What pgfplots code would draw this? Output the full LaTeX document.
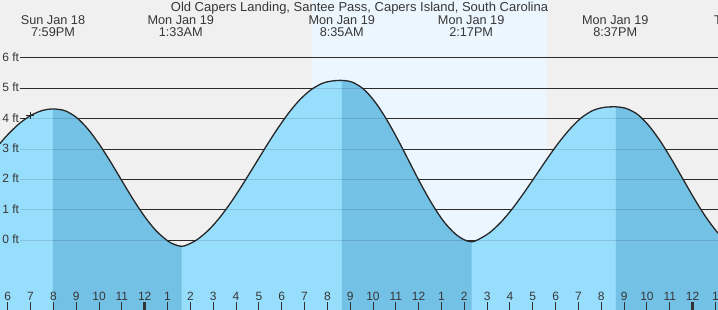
\documentclass[border=0pt]{standalone}
\usepackage{fontspec}
\setmainfont{Liberation Sans}
\usepackage{pgfplots}
\pgfplotsset{compat=1.18}
\usepackage{pgfplotstable}
\definecolor{bggray}{RGB}{240,240,240}
\definecolor{daybg}{RGB}{236,246,255}
\definecolor{tidelight}{RGB}{151,221,252}
\definecolor{tidedark}{RGB}{115,193,229}
\definecolor{txt}{RGB}{55,55,55}
\definecolor{gridc}{RGB}{51,51,51}
\definecolor{curvec}{RGB}{40,40,40}

\pgfplotstableread{
t h
-6.8 2.759
-6.5 3.043
-6.0 3.474
-5.5 3.834
-5.0 4.102
-4.5 4.267
-4.017 4.32
-3.5 4.265
-3.0 4.048
-2.5 3.671
-2.0 3.169
-1.5 2.586
-1.0 1.960
-0.5 1.341
0.0 0.779
0.5 0.313
1.0 -0.015
1.3 -0.137
1.62 -0.20
1.9 -0.138
2.3 0.024
2.8 0.338
3.3 0.761
3.8 1.272
4.3 1.848
4.8 2.454
5.3 3.066
5.8 3.651
6.3 4.181
6.8 4.628
7.3 4.960
7.8 5.170
8.2 5.240
8.64 5.26
9.1 5.200
9.6 4.966
10.1 4.542
10.6 3.970
11.1 3.296
11.6 2.569
12.1 1.844
12.6 1.180
13.1 0.617
13.6 0.215
14.0 0.016
14.32 -0.05
14.6 0.020
15.1 0.247
15.6 0.593
16.1 1.035
16.6 1.549
17.1 2.097
17.6 2.651
18.1 3.178
18.6 3.639
19.1 4.013
19.6 4.260
20.1 4.370
20.64 4.39
21.1 4.335
21.6 4.135
22.1 3.756
22.6 3.244
23.1 2.636
23.6 1.984
24.1 1.336
24.6 0.744
25.1 0.250
25.6 -0.100
}\tidedata

\begin{document}
\begin{tikzpicture}
\begin{axis}[
  at={(0,0)}, anchor=south west,
  scale only axis, width=718bp, height=310bp,
  xmin=-6.338, xmax=25.112, ymin=-2.293, ymax=7.905,
  clip=true,
  axis line style={draw=none},
  axis background/.style={fill=bggray},
  axis on top,
  ytick=\empty,
  xtick={-6,-5,-4,-3,-2,-1,1,2,3,4,5,6,7,8,9,10,11,12,13,14,15,16,17,18,19,20,21,22,23,25},
  xticklabels={6,7,8,9,10,11,1,2,3,4,5,6,7,8,9,10,11,12,1,2,3,4,5,6,7,8,9,10,11,1},
  extra x ticks={0,24},
  extra x tick labels={12,12},
  extra x tick style={major tick style={line width=3bp}},
  xtick pos=left,
  tick align=inside,
  major tick length=7.5bp,
  tick style={gridc, line width=1bp},
  xticklabel style={font=\fontsize{12bp}{14bp}\selectfont, text=txt, anchor=base, yshift=10bp, inner sep=0pt},
]
% daytime
\fill[daybg] (axis cs:7.328,-3) rectangle (axis cs:17.626,9);
% grid lines
\pgfplotsinvokeforeach{0,...,6}{
  \draw[gridc, line width=1bp] (axis cs:-5.462,#1) -- (axis cs:26,#1);
}
% tide fills
\addplot[fill=tidelight, draw=none, smooth] table[x=t,y=h] {\tidedata} -- (axis cs:25.6,-3) -- (axis cs:-6.8,-3) -- cycle;
\addplot[fill=tidedark, draw=none, smooth, restrict x to domain=-4.02:1.625] table[x=t,y=h] {\tidedata} -- (axis cs:1.62,-3) -- (axis cs:-4.017,-3) -- cycle;
\addplot[fill=tidedark, draw=none, smooth, restrict x to domain=8.635:14.325] table[x=t,y=h] {\tidedata} -- (axis cs:14.32,-3) -- (axis cs:8.64,-3) -- cycle;
\addplot[fill=tidedark, draw=none, smooth, restrict x to domain=20.635:27] table[x=t,y=h] {\tidedata} -- (axis cs:25.6,-3) -- (axis cs:20.64,-3) -- cycle;
% faint grid over fill
\pgfplotsinvokeforeach{0,...,6}{
  \draw[black, opacity=0.12, line width=1bp] (axis cs:-5.462,#1) -- (axis cs:26,#1);
}
% curve
\addplot[curvec, line width=1.3bp, smooth] table[x=t,y=h] {\tidedata};
% current time marker
\addplot[only marks, mark=+, mark size=3.8bp, mark options={curvec, line width=0.9bp}] coordinates {(-5.024,4.10)};
% y labels
\pgfplotsinvokeforeach{0,...,6}{
  \node[anchor=east, inner sep=0pt, text=txt, font=\fontsize{12bp}{14bp}\selectfont, yshift=1bp] at (axis cs:-5.50,#1) {#1 ft};
}
% title
\node[anchor=base, inner sep=0pt, text=txt, font=\fontsize{13bp}{15bp}\selectfont] at (axis cs:9.409,7.52) {Old Capers Landing, Santee Pass, Capers Island, South Carolina};
% event labels
\node[anchor=base, inner sep=0pt, text=txt, font=\fontsize{12.7bp}{15bp}\selectfont] at (axis cs:-4.017,7.105) {Sun Jan 18};
\node[anchor=base, inner sep=0pt, text=txt, font=\fontsize{12.7bp}{15bp}\selectfont] at (axis cs:-4.017,6.72) {7:59PM};
\node[anchor=base, inner sep=0pt, text=txt, font=\fontsize{12.7bp}{15bp}\selectfont] at (axis cs:1.58,7.105) {Mon Jan 19};
\node[anchor=base, inner sep=0pt, text=txt, font=\fontsize{12.7bp}{15bp}\selectfont] at (axis cs:1.58,6.72) {1:33AM};
\node[anchor=base, inner sep=0pt, text=txt, font=\fontsize{12.7bp}{15bp}\selectfont] at (axis cs:8.63,7.105) {Mon Jan 19};
\node[anchor=base, inner sep=0pt, text=txt, font=\fontsize{12.7bp}{15bp}\selectfont] at (axis cs:8.63,6.72) {8:35AM};
\node[anchor=base, inner sep=0pt, text=txt, font=\fontsize{12.7bp}{15bp}\selectfont] at (axis cs:14.30,7.105) {Mon Jan 19};
\node[anchor=base, inner sep=0pt, text=txt, font=\fontsize{12.7bp}{15bp}\selectfont] at (axis cs:14.30,6.72) {2:17PM};
\node[anchor=base, inner sep=0pt, text=txt, font=\fontsize{12.7bp}{15bp}\selectfont] at (axis cs:20.61,7.105) {Mon Jan 19};
\node[anchor=base, inner sep=0pt, text=txt, font=\fontsize{12.7bp}{15bp}\selectfont] at (axis cs:20.61,6.72) {8:37PM};
\node[anchor=base, inner sep=0pt, text=txt, font=\fontsize{12.7bp}{15bp}\selectfont] at (axis cs:26.32,7.105) {Tue Jan 20};
\node[anchor=base, inner sep=0pt, text=txt, font=\fontsize{12.7bp}{15bp}\selectfont] at (axis cs:26.32,6.72) {2:48AM};
\end{axis}
\pgfresetboundingbox
\useasboundingbox (0,0) rectangle (718bp,310bp);
\end{tikzpicture}
\end{document}
